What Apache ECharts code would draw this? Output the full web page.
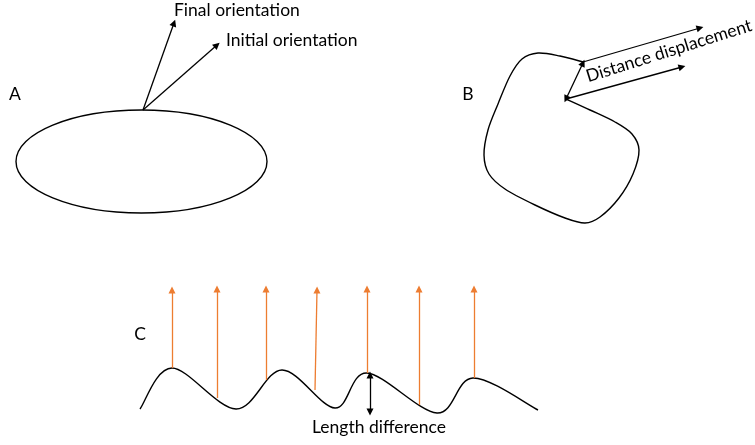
<!DOCTYPE html>
<html>
<head>
<meta charset="utf-8">
<script src="https://cdn.jsdelivr.net/npm/echarts@6/dist/echarts.min.js"></script>
<style>html,body{margin:0;padding:0;background:#fff}#c{width:755px;height:445px}</style>
</head>
<body>
<div id="c"></div>
<script>
// ---- Panel A ----
var ellipseA = [141.5, 161.5, 125.5, 51.5]; // cx, cy, rx, ry
var arrowsA = [
  [[143, 110], [174, 23]],   // final orientation
  [[143, 110], [217, 45]]    // initial orientation
];
// ---- Panel B ----
var blobB = [
  [566, 99], [590, 110], [615, 122], [632, 134], [639, 150], [633, 174], [619, 198],
  [600, 217], [585, 223], [565, 218], [535, 205], [505, 189], [489, 174], [484, 155],
  [488, 130], [498, 104], [510, 76], [522, 59], [538, 53], [560, 56], [583, 62]
];
var arrowsB = [
  [[583, 62], [700, 28]],
  [[566, 99], [682, 67]]
];
var doubleArrowsB = [[[583, 63], [566, 99]]];
// ---- Panel C ----
var waveC = [
  [140, 409], [172, 368], [236, 409], [282, 370], [335, 408], [367, 373],
  [437, 413], [473, 378], [538, 410]
];
var orangeArrowsC = [
  [[172, 368], [172, 290]], [[217, 398], [217, 289]], [[266, 380], [266, 289]],
  [[315, 390], [317, 290]], [[367, 373], [367, 289]], [[419, 405], [419, 289]],
  [[474, 378], [474, 289]]
];
var doubleArrowsC = [[[370, 375], [370, 412]]];
// ---- Labels ----
var labelTexts = ['Final orientation', 'Initial orientation', 'A', 'B', 'C', 'Distance displacement', 'Length difference'];
var labelPos = [[174, 10], [226, 40], [15, 94], [468, 94], [140, 334], [669, 51], [312, 427]];
var labelAlign = ['left', 'left', 'center', 'center', 'center', 'center', 'left'];
var labelRotate = [0, 0, 0, 0, 0, -17.5, 0];

var FONT = '17.5px Lato';
var chart = echarts.init(document.getElementById('c'), null, {renderer: 'canvas'});

function arrowSeries(data, color, syms) {
  return {
    type: 'lines', coordinateSystem: 'cartesian2d', silent: true,
    symbol: syms, symbolSize: 7,
    lineStyle: {color: color, width: 1.3, opacity: 1, curveness: 0},
    itemStyle: {color: color},
    data: data.map(function (c) { return {coords: c}; }),
    z: 3
  };
}

// smooth open curve through points (Catmull-Rom in pixel space)
function curveSeries(points) {
  return {
    type: 'custom', silent: true, data: [[0]],
    renderItem: function (params, api) {
      var p = points.map(function (q) { return api.coord(q); });
      var n = p.length, d = 'M' + p[0][0] + ' ' + p[0][1];
      for (var i = 0; i < n - 1; i++) {
        var p0 = p[Math.max(i - 1, 0)], p1 = p[i], p2 = p[i + 1], p3 = p[Math.min(i + 2, n - 1)];
        var c1x = p1[0] + (p2[0] - p0[0]) / 6, c1y = p1[1] + (p2[1] - p0[1]) / 6;
        var c2x = p2[0] - (p3[0] - p1[0]) / 6, c2y = p2[1] - (p3[1] - p1[1]) / 6;
        d += ' C' + c1x + ' ' + c1y + ' ' + c2x + ' ' + c2y + ' ' + p2[0] + ' ' + p2[1];
      }
      return {
        type: 'path', shape: {pathData: d},
        style: {fill: 'none', stroke: '#000', lineWidth: 1.4}
      };
    }
  };
}

var option = {
  animation: false,
  grid: {left: 0, right: 0, top: 0, bottom: 0},
  xAxis: {type: 'value', min: 0, max: 755, show: false},
  yAxis: {type: 'value', min: 0, max: 445, inverse: true, show: false},
  series: [
    {
      type: 'custom', silent: true,
      data: [ellipseA],
      renderItem: function (params, api) {
        var c = api.coord([api.value(0), api.value(1)]);
        var s = api.size([api.value(2), api.value(3)]);
        return {
          type: 'ellipse',
          shape: {cx: c[0], cy: c[1], rx: s[0], ry: s[1]},
          style: {fill: 'none', stroke: '#000', lineWidth: 1.4}
        };
      }
    },
    curveSeries(blobB),
    curveSeries(waveC),
    arrowSeries(arrowsA, '#000', ['none', 'triangle']),
    arrowSeries(arrowsB, '#000', ['none', 'triangle']),
    arrowSeries(doubleArrowsB, '#000', ['triangle', 'triangle']),
    arrowSeries(orangeArrowsC, '#ED7D31', ['none', 'triangle']),
    arrowSeries(doubleArrowsC, '#000', ['triangle', 'triangle']),
    {
      type: 'custom', silent: true,
      data: labelPos.map(function (p, i) { return [p[0], p[1], i]; }),
      renderItem: function (params, api) {
        var i = api.value(2);
        var c = api.coord([api.value(0), api.value(1)]);
        return {
          type: 'text',
          x: c[0], y: c[1],
          rotation: labelRotate[i] * Math.PI / -180,
          style: {
            text: labelTexts[i], font: FONT, fill: '#000',
            align: labelAlign[i], verticalAlign: 'middle'
          }
        };
      }
    }
  ]
};
chart.setOption(option);
</script>
</body>
</html>
